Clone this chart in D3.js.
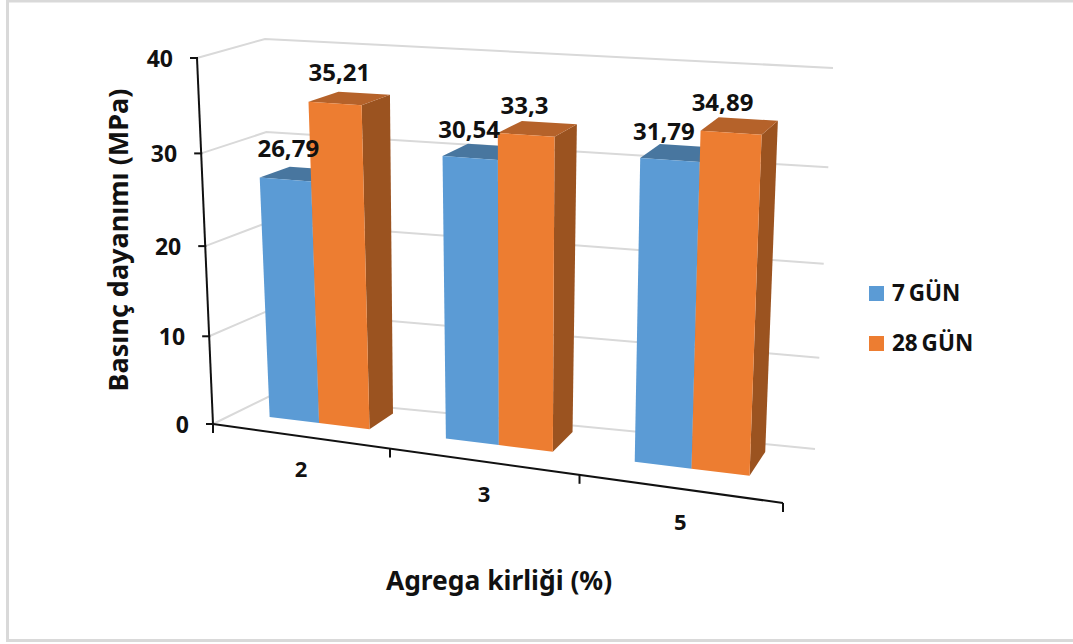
<!DOCTYPE html>
<html lang="tr">
<head>
<meta charset="utf-8">
<style>
  html, body { margin: 0; padding: 0; background: #fff; }
  svg { display: block; }
  text { font-family: "Noto Sans", "Open Sans", sans-serif; font-weight: 700; fill: #111; }
</style>
</head>
<body>
<svg id="chart" width="1073" height="644"></svg>
<script src="https://cdn.jsdelivr.net/npm/d3@7"></script>
<script>
// Chart data
const categories = ["2", "3", "5"];
const seriesNames = ["7 GÜN", "28 GÜN"];
const sevenDay = [26.79, 30.54, 31.79];
const twentyEightDay = [35.21, 33.3, 34.89];
const valueLabels = [["26,79", "30,54", "31,79"], ["35,21", "33,3", "34,89"]];
const valueTicks = [0, 10, 20, 30, 40];
const seriesColors = [
  { front: "#5b9bd5", top: "#48769f", side: "#3f6c96" },
  { front: "#ed7d31", top: "#b5622a", side: "#9b5320" }
];

const svg = d3.select("#chart");

// Perspective box of the plot: f = front, b = back, l/r = left/right, 0/1 = floor/ceiling.
const box = {
  fl0: [213, 424], fl1: [197, 58], fr0: [783, 503], fr1: [803, 96],
  bl0: [270, 396], bl1: [265, 39], br0: [815, 449], br1: [833, 68]
};
const lerp = (a, b, t) => [a[0] + (b[0] - a[0]) * t, a[1] + (b[1] - a[1]) * t];

// Foreshortening along the category, value and depth directions.
const warpX = u => (0.9006 * u) / (3 - 0.0994 * u);
const warpY = v => (0.9455 * v) / (1 - 0.0545 * v);
const warpDepth = d => (0.7 * d) / (1 - 0.3 * d);

const x = d3.scaleBand().domain(categories).range([-0.0125, 2.9875]).paddingInner(0.425).paddingOuter(0.2125);
const barX = d3.scaleBand().domain(d3.range(seriesNames.length)).range([0, x.bandwidth()]);
const y = d3.scaleLinear().domain([0, 40]).range([0, 1]);
const depth = d3.scaleLinear().domain([0, 1]).range([0.4, 0.86]);

// Maps category position, value and depth to the page.
function project(u, value, d) {
  const t = warpX(u), s = warpY(y(value));
  const floor = lerp(lerp(box.fl0, box.fr0, t), lerp(box.bl0, box.br0, t), d);
  const ceil = lerp(lerp(box.fl1, box.fr1, t), lerp(box.bl1, box.br1, t), d);
  const ceilLeaning = lerp(lerp(box.fl1, box.fr1, t), lerp(box.bl1, box.br1, t), warpDepth(d));
  return [floor[0] + (ceilLeaning[0] - floor[0]) * s, floor[1] + (ceil[1] - floor[1]) * s];
}
const poly = pts => "M" + pts.map(p => p.join(",")).join("L") + "Z";

// Frame around the picture
svg.append("path").attr("stroke", "#d9d9d9").attr("stroke-width", 3).attr("fill", "none")
  .attr("d", "M1073,1H7.5V640.5H1073");

// Back wall and side wall gridlines
const grid = svg.append("g").attr("stroke", "#d9d9d9").attr("stroke-width", 2).attr("fill", "none");
valueTicks.forEach(v => {
  grid.append("path").attr("d", d3.line()([project(0, v, 0), project(0, v, 1), project(3, v, 1)]));
});

// Bars, drawn from left to right
const seriesValues = [sevenDay, twentyEightDay];
const barsLayer = svg.append("g");
const d0 = depth(0), d1 = depth(1);
categories.forEach((cat, i) => {
  seriesValues.forEach((values, s) => {
    const u0 = x(cat) + barX(s), u1 = u0 + barX.bandwidth(), v = values[i], c = seriesColors[s];
    const g = barsLayer.append("g");
    g.append("path").attr("fill", c.side).attr("d", poly([
      project(u1, 0, d0), project(u1, 0, d1), project(u1, v, d1), project(u1, v, d0)]));
    g.append("path").attr("fill", c.top).attr("d", poly([
      project(u0, v, d0), project(u1, v, d0), project(u1, v, d1), project(u0, v, d1)]));
    g.append("path").attr("fill", c.front).attr("d", poly([
      project(u0, 0, d0), project(u1, 0, d0), project(u1, v, d0), project(u0, v, d0)]));
  });
});

// Value axis
const axes = svg.append("g").attr("stroke", "#111").attr("stroke-width", 2).attr("fill", "none");
axes.append("path").attr("d", d3.line()([project(0, 0, 0), project(0, 40, 0)]));
const valueAxisLabels = svg.append("g");
valueTicks.forEach(v => {
  const p = project(0, v, 0);
  axes.append("path").attr("d", `M${p[0] - 7},${p[1]}H${p[0] + 1}`);
  valueAxisLabels.append("text")
    .attr("x", p[0] - 24).attr("y", p[1] + 9)
    .attr("text-anchor", "end").attr("font-size", 23).text(v);
});

// Category axis
axes.append("path").attr("d", d3.line()([project(0, 0, 0), project(3, 0, 0)]));
d3.range(categories.length + 1).forEach(k => {
  const p = project(k, 0, 0);
  axes.append("path").attr("d", `M${p[0]},${p[1]}v9`);
});
categories.forEach((cat, i) => {
  const p = project(i + 0.5, 0, 0);
  svg.append("text").attr("x", p[0] + 1).attr("y", p[1] + 41)
    .attr("text-anchor", "middle").attr("font-size", 22).text(cat);
});

// Value labels above the bars
const labelNudge = [[[3, -22], [-1, -20], [-6, -20]], [[4.5, -22], [-1.5, -21], [-8.4, -22]]];
categories.forEach((cat, i) => {
  seriesValues.forEach((values, s) => {
    const u = x(cat) + barX(s) + barX.bandwidth() / 2;
    const p = project(u, values[i], d0);
    const o = labelNudge[s][i];
    svg.append("text").attr("x", p[0] + o[0]).attr("y", p[1] + o[1])
      .attr("text-anchor", "middle").attr("font-size", 24).text(valueLabels[s][i]);
  });
});

// Axis titles
svg.append("text").attr("transform", "translate(128,240) rotate(-90)")
  .attr("text-anchor", "middle").attr("font-size", 27).text("Basınç dayanımı (MPa)");
svg.append("text").attr("x", 499).attr("y", 590)
  .attr("text-anchor", "middle").attr("font-size", 26.4).text("Agrega kirliği (%)");

// Legend
const legendRow = d3.scalePoint().domain(seriesNames).range([293.5, 343.5]);
seriesNames.forEach((name, i) => {
  const row = legendRow(name);
  svg.append("rect").attr("x", 869).attr("y", row - 7.5).attr("width", 15).attr("height", 15)
    .attr("fill", seriesColors[i].front);
  svg.append("text").attr("x", 892).attr("y", row + 7.5).attr("font-size", 22.5)
    .attr("word-spacing", -2).text(name);
});
</script>
</body>
</html>
